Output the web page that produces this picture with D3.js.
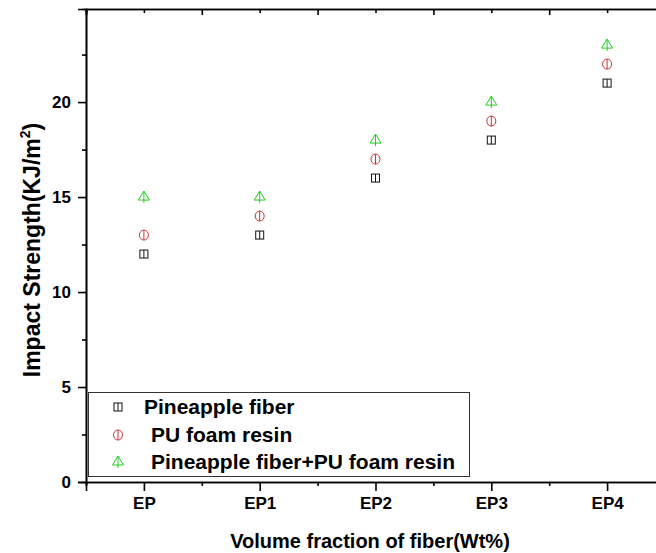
<!DOCTYPE html>
<html>
<head>
<meta charset="utf-8">
<script src="https://cdn.jsdelivr.net/npm/d3@7"></script>
<style>
  body { margin: 0; background: #fff; }
  text { font-family: "Liberation Sans", Arial, sans-serif; font-weight: bold; }
</style>
</head>
<body>
<div id="chart"></div>
<script>
// data
var categories = ["EP", "EP1", "EP2", "EP3", "EP4"];
var pineapple = [12, 13, 16, 18, 21];
var puFoam = [13, 14, 17, 19, 22];
var combined = [15, 15, 18, 20, 23];
var seriesNames = ["Pineapple fiber", "PU foam resin", "Pineapple fiber+PU foam resin"];
var yTicks = [0, 5, 10, 15, 20];
var yMinor = [2.5, 7.5, 12.5, 17.5, 22.5];

function init() {
  var w = 656, h = 553;
  var left = 86, top = 9, bottom = 482, right = 665;

  var svg = d3.select("#chart").append("svg")
    .attr("width", w).attr("height", h);

  var x = d3.scaleLinear().domain([-0.5, 4.5]).range([left, right]);
  var y = d3.scaleLinear().domain([0, 24.9]).range([bottom, top]);

  var idx = d3.range(categories.length);
  var halves = d3.range(-0.5, 4.6, 1);

  // bottom axis, major ticks with labels
  var xAxis = svg.append("g")
    .attr("transform", "translate(0," + bottom + ")")
    .call(d3.axisBottom(x).tickValues(idx).tickSize(9).tickPadding(6)
      .tickFormat(function(d) { return categories[d]; }));
  xAxis.selectAll("text").style("font-size", "17px").attr("fill", "#000");
  // bottom minor
  svg.append("g")
    .attr("transform", "translate(0," + bottom + ")")
    .call(d3.axisBottom(x).tickValues(halves).tickSize(4).tickFormat(""));

  // top frame, ticks pointing inward
  svg.append("g")
    .attr("transform", "translate(0," + top + ")")
    .call(d3.axisBottom(x).tickValues(idx).tickSize(4).tickFormat(""));
  svg.append("g")
    .attr("transform", "translate(0," + top + ")")
    .call(d3.axisBottom(x).tickValues(halves).tickSize(6).tickFormat(""));

  // left axis
  var yAxis = svg.append("g")
    .attr("transform", "translate(" + left + ",0)")
    .call(d3.axisLeft(y).tickValues(yTicks).tickSize(8).tickPadding(7));
  yAxis.selectAll("text").style("font-size", "17px").attr("fill", "#000");
  svg.append("g")
    .attr("transform", "translate(" + left + ",0)")
    .call(d3.axisLeft(y).tickValues(yMinor).tickSize(4).tickFormat(""));

  svg.selectAll(".domain").attr("stroke", "#000").attr("stroke-width", 1.6);
  svg.selectAll(".tick line").attr("stroke", "#000").attr("stroke-width", 1.6);

  // marker shapes
  function squareMark(g, cx, cy, c) {
    g.append("rect").attr("x", cx - 4).attr("y", cy - 4).attr("width", 8).attr("height", 8)
      .attr("fill", "none").attr("stroke", c).attr("stroke-width", 1);
    g.append("line").attr("x1", cx).attr("x2", cx).attr("y1", cy - 4).attr("y2", cy + 4)
      .attr("stroke", c).attr("stroke-width", 1);
  }
  function circleMark(g, cx, cy, c) {
    g.append("ellipse").attr("cx", cx).attr("cy", cy).attr("rx", 4.5).attr("ry", 5)
      .attr("fill", "none").attr("stroke", c).attr("stroke-width", 1);
    g.append("line").attr("x1", cx).attr("x2", cx).attr("y1", cy - 5).attr("y2", cy + 5)
      .attr("stroke", c).attr("stroke-width", 1);
  }
  function triMark(g, cx, cy, c) {
    g.append("path")
      .attr("d", "M" + cx + "," + (cy - 6) + "L" + (cx + 5.5) + "," + (cy + 3) + "L" + (cx - 5.5) + "," + (cy + 3) + "Z")
      .attr("fill", "none").attr("stroke", c).attr("stroke-width", 1);
    g.append("line").attr("x1", cx).attr("x2", cx).attr("y1", cy - 6).attr("y2", cy + 6)
      .attr("stroke", c).attr("stroke-width", 1);
  }

  var colors = ["#111111", "#cc3333", "#22cc22"];
  var marks = [squareMark, circleMark, triMark];
  var data = [pineapple, puFoam, combined];

  var pts = svg.append("g");
  data.forEach(function(vals, s) {
    vals.forEach(function(v, i) {
      marks[s](pts, x(i), y(v), colors[s]);
    });
  });

  // legend
  var lg = svg.append("g");
  lg.append("rect").attr("x", 88.5).attr("y", 392.5).attr("width", 381).attr("height", 84)
    .attr("fill", "#fff").attr("stroke", "#333").attr("stroke-width", 1);
  var rowY = [407, 435, 462];
  var textX = [144, 151, 151];
  seriesNames.forEach(function(name, s) {
    marks[s](lg, 118, rowY[s], colors[s]);
    lg.append("text").attr("x", textX[s]).attr("y", rowY[s] + 7)
      .style("font-size", "21px").text(name);
  });

  // axis titles
  var yt = svg.append("text")
    .attr("transform", "translate(40,250) rotate(-90)")
    .attr("text-anchor", "middle")
    .style("font-size", "23px");
  yt.append("tspan").text("Impact Strength(KJ/m");
  yt.append("tspan").attr("dy", -10).style("font-size", "14px").text("2");
  yt.append("tspan").attr("dy", 10).text(")");

  svg.append("text").attr("x", 370).attr("y", 548)
    .attr("text-anchor", "middle").style("font-size", "20px")
    .text("Volume fraction of fiber(Wt%)");
}
window.onload = init;
</script>
</body>
</html>
